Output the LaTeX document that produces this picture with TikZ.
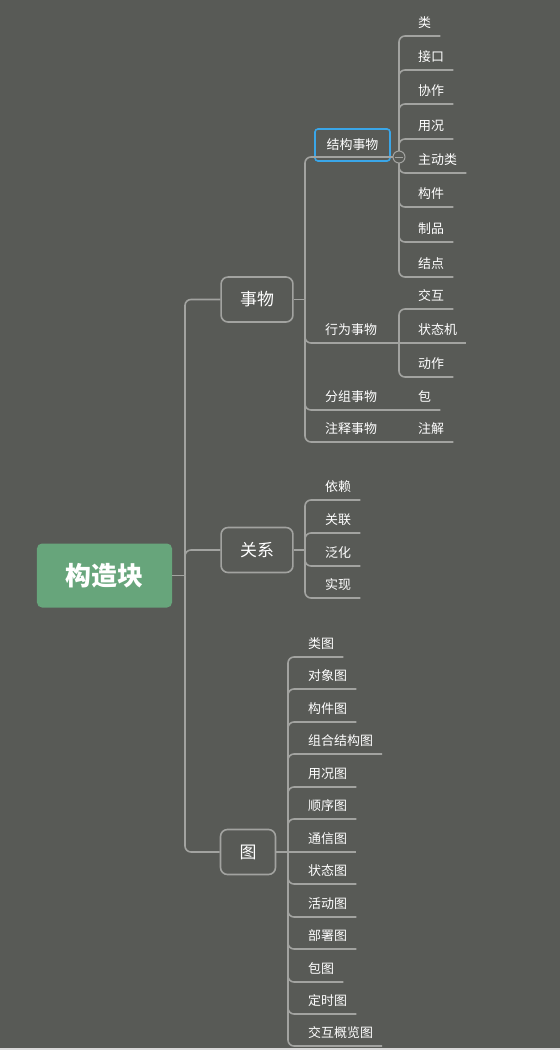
\documentclass[tikz,border=0pt]{standalone}
\usepackage{fontspec}
\setmainfont{Noto Sans CJK SC}

\definecolor{bgcol}{HTML}{585A56}
\definecolor{linecol}{HTML}{A2A3A0}
\definecolor{rootcol}{HTML}{67A57B}
\definecolor{selcol}{HTML}{3AA6E8}
\definecolor{stripcol}{HTML}{DADADA}

\tikzset{
  link/.style={draw=linecol, line width=1.6pt, rounded corners=6pt},
  rootbox/.style={fill=rootcol, rounded corners=5pt, text=white,
    font=\fontsize{26}{30}\selectfont\bfseries,
    minimum width=135bp, minimum height=64bp, inner sep=0pt},
  branchbox/.style={draw=linecol, line width=1.6pt, rounded corners=7pt,
    text=white, font=\fontsize{17}{20}\selectfont,
    inner xsep=19bp, inner ysep=0pt, minimum height=45bp},
  selbox/.style={draw=selcol, line width=1.6pt, rounded corners=3pt,
    text=white, font=\fontsize{13}{15}\selectfont,
    minimum width=75bp, minimum height=32bp, inner sep=0pt},
  leaf/.style={anchor=south west, text=white, font=\fontsize{13}{15}\selectfont,
    inner xsep=9bp, inner ysep=0pt, text height=10pt, text depth=8.5bp},
}

\begin{document}
\begin{tikzpicture}[x=1bp, y=-1bp]

  % Page size, background and the light strip at the bottom edge
  \useasboundingbox (0,0) rectangle (560,1050);
  \fill[bgcol] (-5,-5) rectangle (565,1055);
  \fill[stripcol] (-5,1047.5) rectangle (565,1055);

  % Root and the three main branches
  \node[rootbox] (root) at (104.5,575.5) {构造块};
  \node[branchbox] (shiwu) at (257,299.5) {事物};
  \node[branchbox] (guanxi) at (257,550) {关系};
  \node[branchbox] (tu) at (248,852) {图};

  % Junction points on the vertical lines
  \coordinate (jroot) at (185,575.5);
  \coordinate (jsw) at (305,299.5);
  \coordinate (jjg) at (399,157);
  \coordinate (jxw) at (399,343);
  \coordinate (jgx) at (305,550);
  \coordinate (jtu) at (288,852);

  % Things: second level
  \node[selbox] (jiegou) at (352.5,145) {结构事物};
  \node[leaf] (xingwei) at (316,343) {行为事物};
  \node[leaf] (fenzu) at (316,410) {分组事物};
  \node[leaf] (zhushi) at (316,442) {注释事物};

  % Structural things
  \node[leaf] (lei) at (409,36) {类};
  \node[leaf] (jiekou) at (409,70) {接口};
  \node[leaf] (xiezuo) at (409,104) {协作};
  \node[leaf] (yongkuang) at (409,139) {用况};
  \node[leaf] (zhudong) at (409,173) {主动类};
  \node[leaf] (goujian) at (409,207) {构件};
  \node[leaf] (zhipin) at (409,242) {制品};
  \node[leaf] (jiedian) at (409,277) {结点};

  % Behavioural, grouping and annotational things
  \node[leaf] (jiaohu) at (409,309) {交互};
  \node[leaf] (ztj) at (409,343) {状态机};
  \node[leaf] (dongzuo) at (409,377) {动作};
  \node[leaf] (bao) at (409,410) {包};
  \node[leaf] (zhujie) at (409,442) {注解};

  % Relationships
  \node[leaf] (yilai) at (316,500) {依赖};
  \node[leaf] (guanlian) at (316,533) {关联};
  \node[leaf] (fanhua) at (316,566) {泛化};
  \node[leaf] (shixian) at (316,598) {实现};

  % Diagrams
  \node[leaf] (leitu) at (299,657) {类图};
  \node[leaf] (duixiang) at (299,689) {对象图};
  \node[leaf] (goujiantu) at (299,722) {构件图};
  \node[leaf] (zuhe) at (299,754) {组合结构图};
  \node[leaf] (yongkuangtu) at (299,787) {用况图};
  \node[leaf] (shunxu) at (299,819) {顺序图};
  \node[leaf] (tongxin) at (299,852) {通信图};
  \node[leaf] (zhuangtai) at (299,884) {状态图};
  \node[leaf] (huodong) at (299,917) {活动图};
  \node[leaf] (bushu) at (299,949) {部署图};
  \node[leaf] (baotu) at (299,982) {包图};
  \node[leaf] (dingshi) at (299,1014) {定时图};
  \node[leaf] (gailan) at (299,1046) {交互概览图};

  % Root to branches
  \draw[link] (root.east) -- (jroot);
  \draw[link] (jroot) |- (shiwu.west);
  \draw[link] (jroot) |- (guanxi.west);
  \draw[link] (jroot) |- (tu.west);

  % Things
  \draw[link] (shiwu.east) -- (jsw);
  \draw[link] (jsw) |- (jjg);
  \draw[link] (jsw) |- (jxw);
  \draw[link] (jsw) |- (bao.south east);
  \draw[link] (jsw) |- (zhujie.south east);

  \draw[link] (jjg) |- (lei.south east);
  \draw[link] (jjg) |- (jiekou.south east);
  \draw[link] (jjg) |- (xiezuo.south east);
  \draw[link] (jjg) |- (yongkuang.south east);
  \draw[link] (jjg) |- (zhudong.south east);
  \draw[link] (jjg) |- (goujian.south east);
  \draw[link] (jjg) |- (zhipin.south east);
  \draw[link] (jjg) |- (jiedian.south east);

  \draw[link] (jxw) |- (jiaohu.south east);
  \draw[link] (jxw) -- (ztj.south east);
  \draw[link] (jxw) |- (dongzuo.south east);

  % Collapse button of the selected topic
  \draw[linecol, line width=1pt, fill=bgcol] (jjg) circle (6);
  \draw[linecol, line width=1pt] (395,157) -- (403,157);

  % Relationships
  \draw[link] (guanxi.east) -- (jgx);
  \draw[link] (jgx) |- (yilai.south east);
  \draw[link] (jgx) |- (guanlian.south east);
  \draw[link] (jgx) |- (fanhua.south east);
  \draw[link] (jgx) |- (shixian.south east);

  % Diagrams
  \draw[link] (tu.east) -- (jtu);
  \draw[link] (jtu) |- (leitu.south east);
  \draw[link] (jtu) |- (duixiang.south east);
  \draw[link] (jtu) |- (goujiantu.south east);
  \draw[link] (jtu) |- (zuhe.south east);
  \draw[link] (jtu) |- (yongkuangtu.south east);
  \draw[link] (jtu) |- (shunxu.south east);
  \draw[link] (jtu) -- (tongxin.south east);
  \draw[link] (jtu) |- (zhuangtai.south east);
  \draw[link] (jtu) |- (huodong.south east);
  \draw[link] (jtu) |- (bushu.south east);
  \draw[link] (jtu) |- (baotu.south east);
  \draw[link] (jtu) |- (dingshi.south east);
  \draw[link] (jtu) |- (gailan.south east);

\end{tikzpicture}
\end{document}
